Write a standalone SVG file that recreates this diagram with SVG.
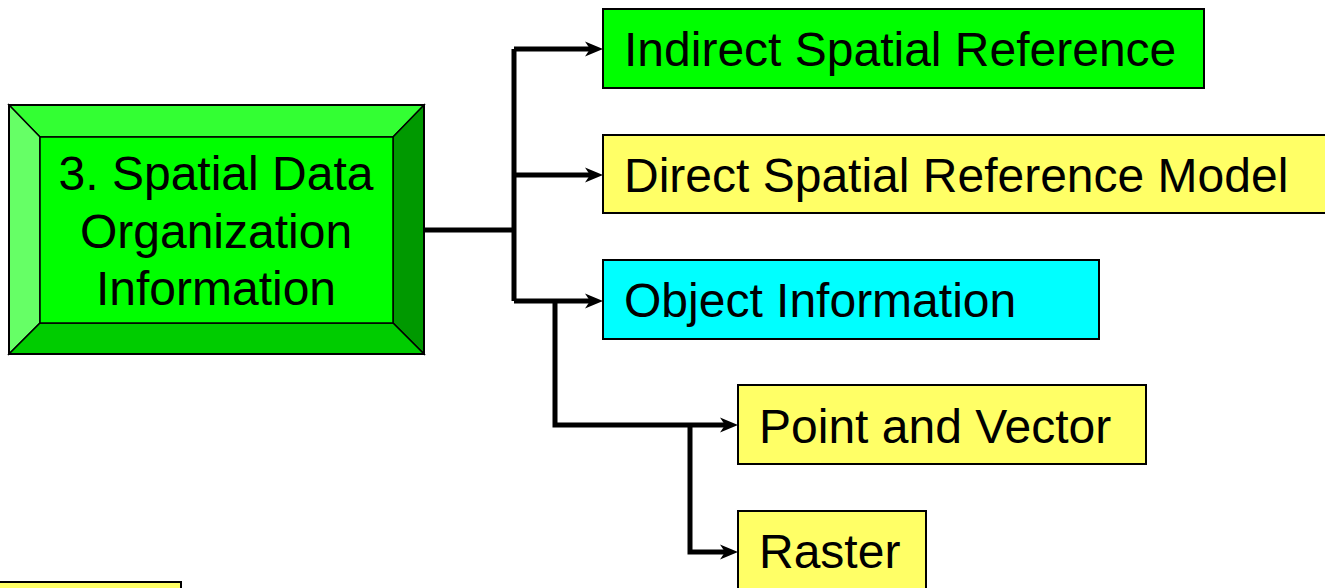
<svg xmlns="http://www.w3.org/2000/svg" width="1325" height="588" viewBox="0 0 1325 588">
  <style>
    .box { stroke: #000; stroke-width: 2; }
    .yellow { fill: #FFFF66; }
    .green { fill: #00FF00; }
    .cyan { fill: #00FFFF; }
    .label { font-family: "Liberation Sans", Arial, sans-serif; font-size: 48px; fill: #000; }
    .wire { fill: none; stroke: #000; stroke-width: 5; stroke-linejoin: miter; stroke-linecap: butt; }
    .bevel { stroke: #000; stroke-width: 1.5; }
  </style>
  <defs>
    <!-- notched arrowhead; the wire ends at the notch so the tip stays sharp -->
    <marker id="arrow" markerUnits="userSpaceOnUse" markerWidth="18" markerHeight="16" viewBox="0 0 18 16" refX="5" refY="8" orient="auto">
      <path d="M0,0.5 L18,8 L0,15.5 L5,8 Z" fill="#000"/>
    </marker>
  </defs>

  <!-- connectors -->
  <g id="connectors">
    <path class="wire" d="M424,230 H514"/>
    <path class="wire" d="M514,49 V301"/>
    <path class="wire" d="M514,49 H590" marker-end="url(#arrow)"/>
    <path class="wire" d="M514,175 H590" marker-end="url(#arrow)"/>
    <path class="wire" d="M514,301 H590" marker-end="url(#arrow)"/>
    <path class="wire" d="M555,301 V425 H725" marker-end="url(#arrow)"/>
    <path class="wire" d="M690,425 V552 H725" marker-end="url(#arrow)"/>
  </g>

  <!-- bevelled root node -->
  <g id="node-root">
    <polygon class="bevel" points="9,105 424,105 393,137 40,137" fill="#33FF33"/>
    <polygon class="bevel" points="9,105 40,137 40,323 9,354" fill="#66FF66"/>
    <polygon class="bevel" points="424,105 424,354 393,323 393,137" fill="#009900"/>
    <polygon class="bevel" points="9,354 40,323 393,323 424,354" fill="#00CC00"/>
    <rect class="bevel" x="40" y="137" width="353" height="186" fill="#00FF00"/>
    <rect x="9" y="105" width="415" height="249" fill="none" stroke="#000" stroke-width="2"/>
    <text class="label" text-anchor="middle" x="216" y="190">3. Spatial Data</text>
    <text class="label" text-anchor="middle" x="216" y="248">Organization</text>
    <text class="label" text-anchor="middle" x="216" y="305">Information</text>
  </g>

  <g id="node-indirect">
    <rect class="box green" x="603" y="9" width="601" height="79"/>
    <text class="label" x="624" y="66">Indirect Spatial Reference</text>
  </g>

  <g id="node-direct">
    <rect class="box yellow" x="603" y="135" width="730" height="78"/>
    <text class="label" x="624" y="192">Direct Spatial Reference Model</text>
  </g>

  <g id="node-object">
    <rect class="box cyan" x="603" y="260" width="496" height="79"/>
    <text class="label" x="624" y="317">Object Information</text>
  </g>

  <g id="node-point-vector">
    <rect class="box yellow" x="738" y="385" width="408" height="79"/>
    <text class="label" x="759" y="443">Point and Vector</text>
  </g>

  <g id="node-raster">
    <rect class="box yellow" x="738" y="511" width="188" height="90"/>
    <text class="label" x="759" y="568">Raster</text>
  </g>

  <g id="node-bottom-left">
    <rect class="box yellow" x="-2" y="582" width="183" height="20"/>
  </g>
</svg>
